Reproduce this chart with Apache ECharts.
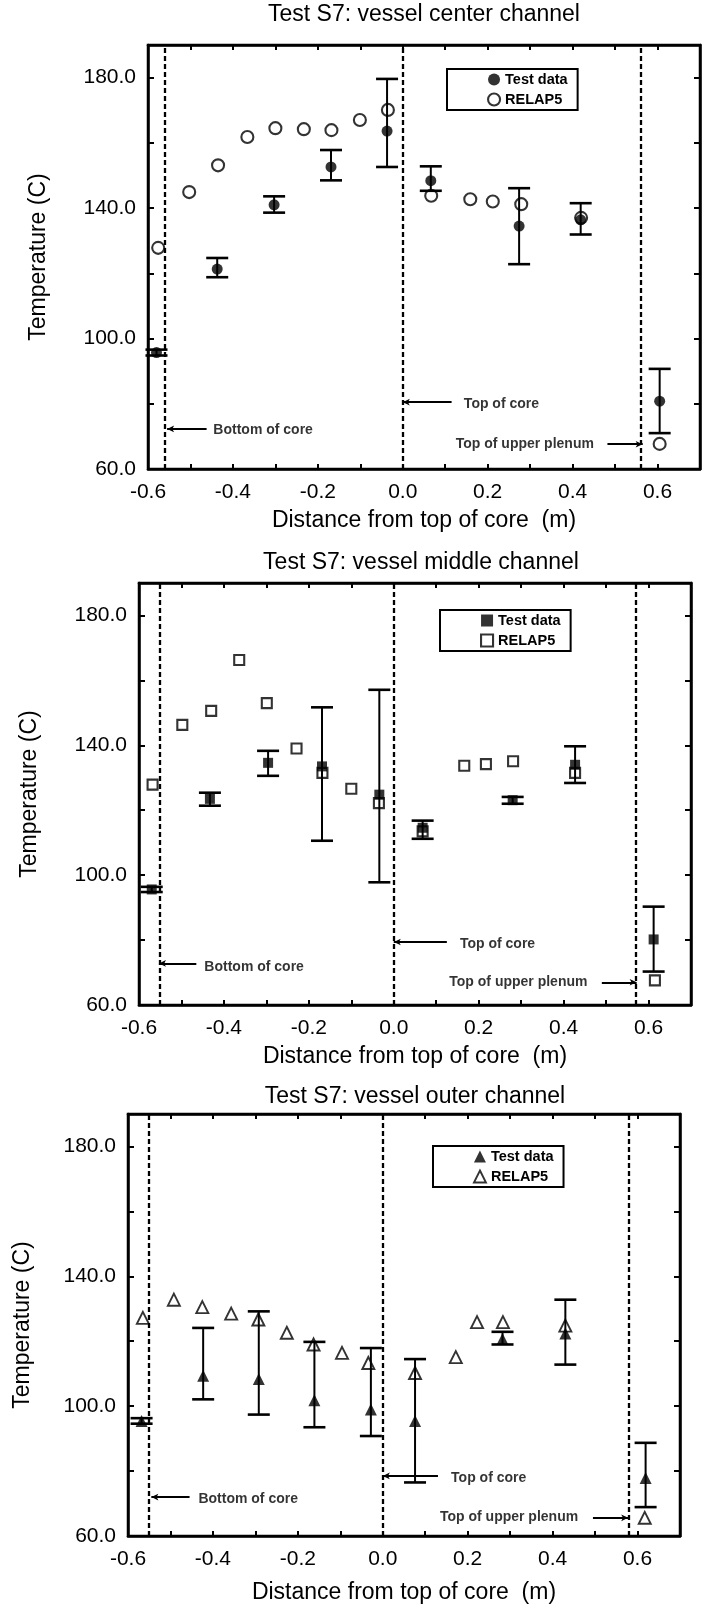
<!DOCTYPE html>
<html>
<head>
<meta charset="utf-8">
<script src="https://cdn.jsdelivr.net/npm/echarts@6/dist/echarts.min.js"></script>
<style>html,body{margin:0;padding:0;background:#fff}#c{width:702px;height:1606px}</style>
</head>
<body>
<div id="c"></div>
<script>
// ---------------- DATA ----------------
const titles = ['Test S7: vessel center channel', 'Test S7: vessel middle channel', 'Test S7: vessel outer channel'];
const xAxisTitle = 'Distance from top of core  (m)';
const yAxisTitle = 'Temperature (C)';
const yTickLabels = [60, 100, 140, 180];
const xTickLabels = [-0.6, -0.4, -0.2, 0.0, 0.2, 0.4, 0.6];
const legendNames = ['Test data', 'RELAP5'];
const annotTexts = ['Bottom of core', 'Top of core', 'Top of upper plenum'];

// center channel
const centerTestX  = [-0.580, -0.437, -0.303, -0.169, -0.037, 0.066, 0.274, 0.419, 0.605];
const centerTestY  = [95.7, 121.3, 141.0, 152.6, 163.6, 148.4, 134.5, 136.4, 80.8];
const centerTestHi = [96.6, 124.7, 143.6, 157.8, 179.6, 152.8, 146.1, 141.5, 90.7];
const centerTestLo = [94.8, 118.8, 138.6, 148.5, 152.6, 145.3, 122.8, 131.9, 71.0];
const centerRelX   = [-0.576, -0.503, -0.435, -0.366, -0.300, -0.233, -0.168, -0.101, -0.035, 0.067, 0.159, 0.212, 0.279, 0.420, 0.605];
const centerRelY   = [127.8, 144.9, 153.1, 161.8, 164.5, 164.2, 163.9, 167.0, 170.1, 143.8, 142.7, 142.0, 141.2, 137.0, 67.7];
const centerMarks  = [-0.555, 0.0, 0.565];

// middle channel
const middleTestX  = [-0.570, -0.433, -0.296, -0.169, -0.034, 0.068, 0.280, 0.427, 0.612];
const middleTestY  = [95.6, 123.5, 134.6, 133.5, 124.8, 114.6, 123.1, 134.0, 80.2];
const middleTestHi = [96.4, 125.4, 138.3, 151.7, 157.1, 116.8, 124.1, 139.7, 90.3];
const middleTestLo = [94.8, 121.4, 130.6, 110.6, 97.8, 111.2, 122.0, 128.4, 70.3];
const middleRelX   = [-0.568, -0.498, -0.430, -0.364, -0.299, -0.229, -0.168, -0.100, -0.035, 0.068, 0.166, 0.217, 0.281, 0.427, 0.615];
const middleRelY   = [127.9, 146.3, 150.6, 166.3, 153.0, 139.0, 131.5, 126.6, 122.2, 113.5, 133.7, 134.2, 135.1, 131.5, 67.6];
const middleMarks  = [-0.553, 0.0, 0.572];

// outer channel
const outerTestX  = [-0.568, -0.423, -0.292, -0.161, -0.028, 0.076, 0.282, 0.430, 0.619];
const outerTestY  = [95.4, 109.4, 108.4, 101.8, 99.0, 95.4, 120.7, 122.4, 77.9];
const outerTestHi = [96.3, 124.1, 129.2, 119.8, 117.9, 114.5, 122.9, 132.8, 88.7];
const outerTestLo = [94.6, 102.1, 97.4, 93.5, 90.8, 76.5, 119.0, 112.8, 68.9];
const outerRelX   = [-0.565, -0.492, -0.425, -0.357, -0.293, -0.226, -0.163, -0.096, -0.034, 0.076, 0.172, 0.222, 0.283, 0.430, 0.617];
const outerRelY   = [127.2, 132.8, 130.5, 128.5, 126.7, 122.6, 119.0, 116.4, 113.3, 110.2, 115.1, 125.9, 125.9, 124.8, 65.6];
const outerMarks  = [-0.545, 0.0, 0.578];

// ---------------- LAYOUT / STYLE ----------------
const FONT = '"Liberation Sans", Arial, Helvetica, sans-serif';
const panels = [
  { key: 'center', title: titles[0], titleX: 424, titleTop: 3,
    grid: { left: 148, top: 45, width: 552, height: 424 }, xNameGap: 40, yNameGap: 98,
    legendPos: { left: 447, top: 69 }, symbol: 'circle', testSize: 11, relSize: 12,
    tx: centerTestX, ty: centerTestY, thi: centerTestHi, tlo: centerTestLo, rx: centerRelX, ry: centerRelY, marks: centerMarks,
    ann: { bot: [-0.462, 72.3, -0.452, 72.0], top: [0.115, 80.5, 0.138, 79.8], ple: [0.482, 67.6, 0.456, 67.6] } },
  { key: 'middle', title: titles[1], titleX: 421, titleTop: 551,
    grid: { left: 139, top: 583, width: 552, height: 422 }, xNameGap: 40, yNameGap: 98,
    legendPos: { left: 440, top: 610 }, symbol: 'rect', testSize: 10, relSize: 10,
    tx: middleTestX, ty: middleTestY, thi: middleTestHi, tlo: middleTestLo, rx: middleRelX, ry: middleRelY, marks: middleMarks,
    ann: { bot: [-0.465, 72.8, -0.452, 71.6], top: [0.125, 79.4, 0.150, 78.7], ple: [0.490, 67.0, 0.462, 67.0] } },
  { key: 'outer', title: titles[2], titleX: 415, titleTop: 1085,
    grid: { left: 128, top: 1114, width: 552, height: 422 }, xNameGap: 45, yNameGap: 94,
    legendPos: { left: 433, top: 1146 }, symbol: 'triangle', testSize: 12, relSize: 12,
    tx: outerTestX, ty: outerTestY, thi: outerTestHi, tlo: outerTestLo, rx: outerRelX, ry: outerRelY, marks: outerMarks,
    ann: { bot: [-0.455, 72.0, -0.440, 71.5], top: [0.130, 78.5, 0.155, 77.8], ple: [0.495, 65.6, 0.466, 65.7] } }
];

function xLabel(v) {
  const r = Math.round(v * 10);
  const ok = xTickLabels.some(t => Math.round(t * 10) === r);
  if (!ok) return '';
  return (r / 10).toFixed(1).replace('-0.0', '0.0');
}
function yLabel(v) {
  const r = Math.round(v);
  return yTickLabels.indexOf(r) >= 0 ? r.toFixed(1) : '';
}

function errRender(params, api) {
  const x = api.value(0), lo = api.value(1), hi = api.value(2);
  const pLo = api.coord([x, lo]), pHi = api.coord([x, hi]);
  const hw = 11;
  return { type: 'group', children: [
    { type: 'line', shape: { x1: pLo[0], y1: pLo[1], x2: pHi[0], y2: pHi[1] }, style: { stroke: '#000', lineWidth: 2 } },
    { type: 'line', shape: { x1: pLo[0] - hw, y1: pLo[1], x2: pLo[0] + hw, y2: pLo[1] }, style: { stroke: '#000', lineWidth: 2.6 } },
    { type: 'line', shape: { x1: pHi[0] - hw, y1: pHi[1], x2: pHi[0] + hw, y2: pHi[1] }, style: { stroke: '#000', lineWidth: 2.6 } }
  ] };
}

const option = {
  backgroundColor: '#fff',
  animation: false,
  textStyle: { fontFamily: FONT, color: '#000' },
  title: [], grid: [], xAxis: [], yAxis: [], legend: [], series: []
};

const tickStyle = { color: '#000', width: 2 };
const lineStyleAxis = { color: '#000', width: 2.5 };

panels.forEach((p, i) => {
  option.title.push({ text: p.title, left: p.titleX, top: p.titleTop, textAlign: 'center', padding: 0,
    textStyle: { fontFamily: FONT, fontSize: 23, fontWeight: 'normal', color: '#000' } });
  option.grid.push(Object.assign({ show: true, borderColor: '#000', borderWidth: 2.5, backgroundColor: 'transparent' }, p.grid));
  const common = { type: 'value', gridIndex: i, min: -0.6, max: 0.7, interval: 0.1, splitLine: { show: false } };
  option.xAxis.push(Object.assign({}, common, {
    position: 'bottom', name: xAxisTitle, nameLocation: 'middle', nameGap: p.xNameGap,
    nameTextStyle: { fontFamily: FONT, fontSize: 23, color: '#000' },
    axisLine: { show: true, onZero: false, lineStyle: lineStyleAxis },
    axisTick: { show: true, inside: true, length: 5, lineStyle: tickStyle },
    axisLabel: { show: true, formatter: xLabel, fontFamily: FONT, fontSize: 21, color: '#000', margin: 13, showMaxLabel: false }
  }));
  option.xAxis.push(Object.assign({}, common, {
    position: 'top',
    axisLine: { show: true, onZero: false, lineStyle: lineStyleAxis },
    axisTick: { show: true, inside: true, length: 5, lineStyle: tickStyle },
    axisLabel: { show: false }
  }));
  const ycommon = { type: 'value', gridIndex: i, min: 60, max: 190, interval: 20, splitLine: { show: false } };
  option.yAxis.push(Object.assign({}, ycommon, {
    position: 'left', name: yAxisTitle, nameLocation: 'middle', nameGap: p.yNameGap, nameRotate: 90,
    nameTextStyle: { fontFamily: FONT, fontSize: 23, color: '#000' },
    axisLine: { show: true, onZero: false, lineStyle: lineStyleAxis },
    axisTick: { show: true, inside: true, length: 6, lineStyle: tickStyle },
    axisLabel: { show: true, formatter: yLabel, fontFamily: FONT, fontSize: 21, color: '#000', margin: 12, showMaxLabel: false }
  }));
  option.yAxis.push(Object.assign({}, ycommon, {
    position: 'right',
    axisLine: { show: true, onZero: false, lineStyle: lineStyleAxis },
    axisTick: { show: true, inside: true, length: 6, lineStyle: tickStyle },
    axisLabel: { show: false }
  }));

  const xi = 2 * i, yi = 2 * i;
  const testName = p.key + '_test', relName = p.key + '_rel';
  const relStyle = { color: 'rgba(0,0,0,0)', borderColor: '#000', borderWidth: p.symbol === 'triangle' ? 1.9 : 2.1 };

  option.legend.push({
    show: true, orient: 'vertical', left: p.legendPos.left, top: p.legendPos.top,
    padding: [3, 10, 3, 40], itemGap: 5, itemWidth: 12, itemHeight: 12,
    borderColor: '#000', borderWidth: 2, backgroundColor: '#fff', selectedMode: false,
    textStyle: { fontFamily: FONT, fontSize: 14.5, fontWeight: 'bold', color: '#000' },
    formatter: n => n.endsWith('_test') ? legendNames[0] : legendNames[1],
    data: [
      { name: testName, icon: p.symbol, itemStyle: { color: '#000', borderWidth: 0 } },
      { name: relName, icon: p.symbol, itemStyle: relStyle }
    ]
  });

  // dashed boundaries + annotation arrows/texts
  const a = p.ann;
  const dash = { type: [5, 3], width: 2.3, color: '#000' };
  option.series.push({
    type: 'scatter', name: p.key + '_annot', xAxisIndex: xi, yAxisIndex: yi, silent: true, z: 1,
    symbolSize: 1, itemStyle: { color: 'rgba(0,0,0,0)' },
    label: { show: true, formatter: q => q.value[2], fontFamily: FONT, fontSize: 14, fontWeight: 'bold', color: '#000', distance: 2 },
    data: [
      { value: [a.bot[2], a.bot[3], annotTexts[0]], label: { position: 'right' } },
      { value: [a.top[2], a.top[3], annotTexts[1]], label: { position: 'right' } },
      { value: [a.ple[2], a.ple[3], annotTexts[2]], label: { position: 'left' } }
    ],
    markLine: {
      silent: true, animation: false, label: { show: false }, symbol: ['none', 'none'],
      lineStyle: { type: 'solid', width: 1.8, color: '#000' },
      data: [
        { xAxis: p.marks[0], lineStyle: dash },
        { xAxis: p.marks[1], lineStyle: dash },
        { xAxis: p.marks[2], lineStyle: dash },
        [ { coord: [a.bot[0], a.bot[1]], symbol: 'none' }, { coord: [p.marks[0], a.bot[1]], symbol: 'arrow', symbolSize: [5, 7] } ],
        [ { coord: [a.top[0], a.top[1]], symbol: 'none' }, { coord: [p.marks[1], a.top[1]], symbol: 'arrow', symbolSize: [5, 7] } ],
        [ { coord: [a.ple[0], a.ple[1]], symbol: 'none' }, { coord: [p.marks[2], a.ple[1]], symbol: 'arrow', symbolSize: [5, 7] } ]
      ]
    }
  });

  option.series.push({
    type: 'custom', name: p.key + '_err', xAxisIndex: xi, yAxisIndex: yi, z: 2, silent: true,
    renderItem: errRender, encode: { x: 0, y: [1, 2] },
    data: p.tx.map((x, k) => [x, p.tlo[k], p.thi[k]])
  });
  option.series.push({
    type: 'scatter', name: relName, xAxisIndex: xi, yAxisIndex: yi, z: 3, silent: true,
    symbol: p.symbol, symbolSize: p.relSize, itemStyle: relStyle,
    data: p.rx.map((x, k) => [x, p.ry[k]])
  });
  option.series.push({
    type: 'scatter', name: testName, xAxisIndex: xi, yAxisIndex: yi, z: 4, silent: true,
    symbol: p.symbol, symbolSize: p.testSize, itemStyle: { color: '#000' },
    data: p.tx.map((x, k) => [x, p.ty[k]])
  });
});

const chart = echarts.init(document.getElementById('c'), null, { renderer: 'canvas' });
chart.setOption(option);
</script>
</body>
</html>
